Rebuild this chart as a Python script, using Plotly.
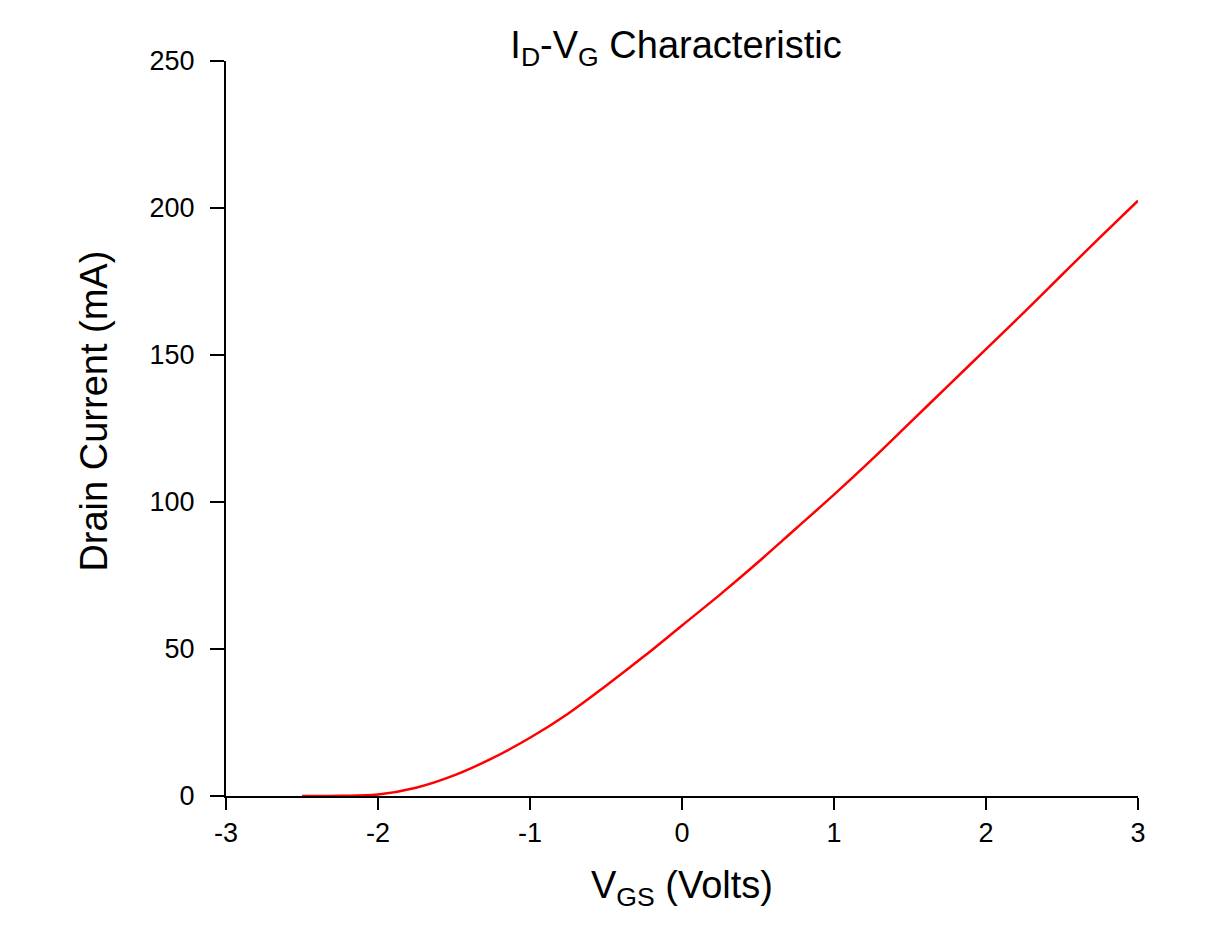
import plotly.graph_objects as go

vgs = [-2.5, -2.25, -2.0, -1.75, -1.5, -1.25, -1.0, -0.75, -0.5, -0.25, 0.0,
       0.25, 0.5, 0.75, 1.0, 1.25, 1.5, 1.75, 2.0, 2.25, 2.5, 2.75, 3.0]
id_ma = [0.0, 0.05, 0.5, 2.8, 7.0, 12.8, 19.8, 28.0, 37.5, 47.5, 58.0,
         68.5, 79.5, 91.0, 102.5, 114.5, 127.0, 139.5, 152.0, 164.5, 177.3, 190.0, 202.5]

x_ticks = [-3, -2, -1, 0, 1, 2, 3]
y_ticks = [0, 50, 100, 150, 200, 250]

fig = go.Figure()
fig.add_trace(go.Scatter(x=vgs, y=id_ma, mode="lines",
                         line=dict(color="#ff0000", width=2.5, shape="spline", smoothing=1.0),
                         showlegend=False))

font_family = "Liberation Sans, Arial, sans-serif"
fig.update_layout(
    width=1211, height=946,
    paper_bgcolor="white", plot_bgcolor="white",
    margin=dict(l=218, r=81, t=53, b=158, autoexpand=False),
    font=dict(family=font_family, color="black"),
    title=dict(text="I<sub>D</sub>-V<sub>G</sub> Characteristic", x=0.5516, xanchor="center",
               y=0.961, yanchor="middle", font=dict(size=38, family=font_family)),
    xaxis=dict(range=[-3, 3], tickvals=x_ticks, ticktext=[str(v) for v in x_ticks],
               showline=True, linecolor="black", linewidth=2, ticks="outside",
               ticklen=12, tickwidth=2, tickcolor="black", showgrid=False, zeroline=False,
               tickfont=dict(size=27), title=dict(text="V<sub>GS</sub> (Volts)",
               font=dict(size=38), standoff=24)),
    yaxis=dict(range=[0, 250], tickvals=y_ticks, ticktext=[str(v) for v in y_ticks],
               showline=True, linecolor="black", linewidth=2, ticks="outside",
               ticklen=14, tickwidth=2, tickcolor="black", showgrid=False, zeroline=False,
               ticklabelstandoff=10,
               tickfont=dict(size=27)),
    annotations=[dict(text="Drain Current (mA)", textangle=-90, xref="paper", yref="paper",
                      x=-0.145, y=0.524, xanchor="center", yanchor="middle", showarrow=False,
                      font=dict(size=38, family=font_family, color="black"))],
)

fig.write_html("out.html")
